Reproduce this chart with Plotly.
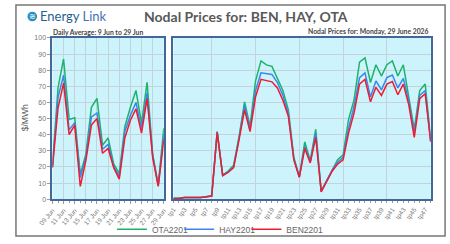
import plotly.graph_objects as go

# ---------------- data ----------------
days = ["2026-06-09", "2026-06-10", "2026-06-11", "2026-06-12", "2026-06-13", "2026-06-14",
        "2026-06-15", "2026-06-16", "2026-06-17", "2026-06-18", "2026-06-19", "2026-06-20",
        "2026-06-21", "2026-06-22", "2026-06-23", "2026-06-24", "2026-06-25", "2026-06-26",
        "2026-06-27", "2026-06-28", "2026-06-29"]
ota_daily = [21, 69, 87, 49.5, 50.5, 15.5, 28, 57, 62.5, 33.5, 38, 22, 16, 45, 57, 67.5, 47, 72.5, 28, 9, 44]
hay_daily = [20, 63, 77, 43, 47.5, 13.5, 26, 51, 53.5, 31, 34, 20.5, 14, 42, 52, 60, 44, 66, 27, 8.5, 40]
ben_daily = [19.5, 56.5, 72, 40, 46, 8, 24, 46, 50, 28.5, 31.5, 19.5, 12.5, 38, 49, 56, 41, 62.5, 26, 8, 37]

periods = ["tp%d" % i for i in range(1, 49)]
ota_tp = [0.6, 0.6, 1.1, 1.1, 1.1, 1.1, 1.6, 2.1, 42, 15, 17.5, 21, 39, 60.4, 45.4, 73.3, 85.8, 83.3,
          82.4, 75.4, 67.4, 55.4, 26, 14, 35.5, 24, 43.4, 5, 11.5, 19, 24.5, 27.5, 49.5, 61.5,
          85, 87.7, 72.4, 83.4, 76.4, 83.4, 85.8, 76.4, 83.4, 63.4, 43.4, 67.4, 71.4, 37]
hay_tp = [0.5, 0.5, 1, 1, 1, 1, 1.5, 2, 41.8, 15, 17, 20, 38, 58, 43.5, 67.3, 78.4, 77.8,
          77.4, 72.4, 64.4, 53, 25, 13.8, 33, 23, 41, 4.8, 11, 18, 23, 26, 44, 57.5,
          75.4, 78.4, 63.4, 73.4, 67.8, 75.4, 77, 69, 75, 61, 41.4, 64.4, 67.4, 36]
ben_tp = [0.5, 0.5, 1, 1, 1, 1, 1.5, 2, 41.5, 14.6, 16.6, 19.6, 37, 55.4, 42, 63.4, 74.4, 73.4,
          72.8, 69, 61.4, 51.4, 24.5, 13.6, 31.5, 22.5, 38.4, 4.6, 10.6, 17.4, 21.8, 24.5, 41, 53.5,
          71.4, 74.4, 60.4, 69.4, 64.4, 71.4, 73, 64.8, 71.4, 58.5, 38.4, 62.4, 65.4, 35.5]

series_names = ["OTA2201", "HAY2201", "BEN2201"]
colors = ["#1db36a", "#3a86f0", "#ee1c2e"]
y_ticks = [0, 10, 20, 30, 40, 50, 60, 70, 80, 90, 100]
grid_periods = [8, 16, 24, 32, 40]

# ---------------- figure ----------------
W, H = 450, 244


def px(x):
    return x / W


def py(y):
    return 1 - y / H


period_num = [int(p[2:]) for p in periods]
legend_ids = ["legend", "legend2", "legend3"]
legend_x = [101, 171, 241]

fig = go.Figure()
for name, col, d_vals, p_vals, lg in zip(series_names, colors,
                                         [ota_daily, hay_daily, ben_daily],
                                         [ota_tp, hay_tp, ben_tp], legend_ids):
    fig.add_trace(go.Scatter(x=days, y=d_vals, mode="lines", name=name,
                             line=dict(color=col, width=1.5), legendgroup=name, legend=lg,
                             xaxis="x", yaxis="y"))
    fig.add_trace(go.Scatter(x=period_num, y=p_vals, mode="lines", name=name,
                             line=dict(color=col, width=1.5), legendgroup=name, legend=lg,
                             showlegend=False, xaxis="x2", yaxis="y2"))
# empty trace for grid overlay axis
fig.add_trace(go.Scatter(x=[], y=[], xaxis="x3", yaxis="y2", showlegend=False, hoverinfo="skip"))

axis_line = "#44679a"
grid_col = "#c3d3da"
tick_font = dict(family="Liberation Sans", size=6.5, color="#777777")

legend_layout = {}
for lg, lx in zip(legend_ids, legend_x):
    legend_layout[lg] = dict(orientation="h", x=px(lx), y=py(234), xanchor="left", yanchor="middle",
                             font=dict(family="Liberation Sans", size=8.5, color="#666666"),
                             bgcolor="rgba(0,0,0,0)")

fig.update_layout(
    width=W, height=H,
    margin=dict(l=0, r=0, t=0, b=0),
    paper_bgcolor="white",
    plot_bgcolor="#cdf4fc",
    showlegend=True,
    **legend_layout,
    xaxis=dict(domain=[px(39), px(155)], type="date",
               range=[days[0], days[-1]], tick0=days[0], dtick=2 * 86400000,
               tickformat="%d %b", tickangle=-50, tickfont=tick_font,
               showgrid=True, gridcolor=grid_col, gridwidth=1,
               ticks="outside", ticklen=3, tickcolor="#999999",
               minor=dict(dtick=86400000, ticks="outside", ticklen=2, tickcolor="#999999", showgrid=False),
               showline=True, linecolor=axis_line, linewidth=2, mirror=True,
               zeroline=False, anchor="y"),
    yaxis=dict(domain=[py(202.7), py(35.3)], range=[0, 100], tickvals=y_ticks,
               tickfont=dict(family="Liberation Sans", size=7, color="#777777"),
               showgrid=True, gridcolor=grid_col, gridwidth=1,
               ticks="outside", ticklen=3, tickcolor="#999999",
               showline=True, linecolor=axis_line, linewidth=2, mirror=True,
               zeroline=False, anchor="x"),
    xaxis2=dict(domain=[px(165), px(433)], range=[1, 48],
                tickvals=period_num,
                ticktext=[p if i % 2 == 0 else "" for i, p in enumerate(periods)],
                tickangle=-55, tickfont=tick_font,
                showgrid=False,
                ticks="outside", ticklen=2, tickcolor="#999999",
                showline=True, linecolor=axis_line, linewidth=2, mirror=True,
                zeroline=False, anchor="y2"),
    xaxis3=dict(overlaying="x2", range=[1, 48], tickvals=grid_periods,
                showticklabels=False, ticks="", showgrid=True, gridcolor=grid_col, gridwidth=1,
                showline=False, zeroline=False, anchor="y2"),
    yaxis2=dict(domain=[py(202.7), py(35.3)], range=[0, 100], tickvals=y_ticks,
                showticklabels=False, ticks="",
                showgrid=True, gridcolor=grid_col, gridwidth=1,
                showline=True, linecolor=axis_line, linewidth=2, mirror=True,
                zeroline=False, anchor="x2"),
)

cond = "Lato, Liberation Sans"
P = dict(xref="paper", yref="paper", showarrow=False)
ann = []
ann.append(dict(text="<b>Nodal Prices for: BEN, HAY, OTA</b>", x=px(241), y=py(13),
                xanchor="center", yanchor="middle",
                font=dict(family=cond, size=14, color="#595959"), **P))
ann.append(dict(text="<b>Daily Average: 9 Jun to 29 Jun</b>", x=px(38), y=py(29),
                xanchor="left", yanchor="middle",
                font=dict(family=cond, size=6.8, color="#444444"), **P))
ann.append(dict(text="<b>Nodal Prices for: Monday, 29 June 2026</b>", x=px(433), y=py(29),
                xanchor="right", yanchor="middle",
                font=dict(family=cond, size=6.8, color="#444444"), **P))
ann.append(dict(text="$/MWh", x=px(10), y=py(118), textangle=-90,
                xanchor="center", yanchor="middle",
                font=dict(family="Liberation Sans", size=8.5, color="#555555"), **P))
ann.append(dict(text="<span style='color:#1f5f8e'>Energy</span> <span style='color:#4670b4'>Link</span>",
                x=px(24), y=py(12.5), xanchor="left", yanchor="middle",
                font=dict(family=cond, size=13), **P))
ann.append(dict(text="≋", x=px(18), y=py(13), xanchor="center", yanchor="middle",
                font=dict(family="DejaVu Sans", size=8, color="white"), **P))
fig.update_layout(annotations=ann)

shapes = []
# logo circle
shapes.append(dict(type="circle", xref="paper", yref="paper",
                   x0=px(13), x1=px(23), y0=py(18), y1=py(8),
                   fillcolor="#2a8fc0", line=dict(width=0), layer="below"))
# outer frame
shapes.append(dict(type="rect", xref="paper", yref="paper",
                   x0=px(1), x1=px(448), y0=py(241), y1=py(1),
                   line=dict(color="#777777", width=1.5), fillcolor="rgba(0,0,0,0)", layer="above"))
fig.update_layout(shapes=shapes)

fig.write_html("out.html")
